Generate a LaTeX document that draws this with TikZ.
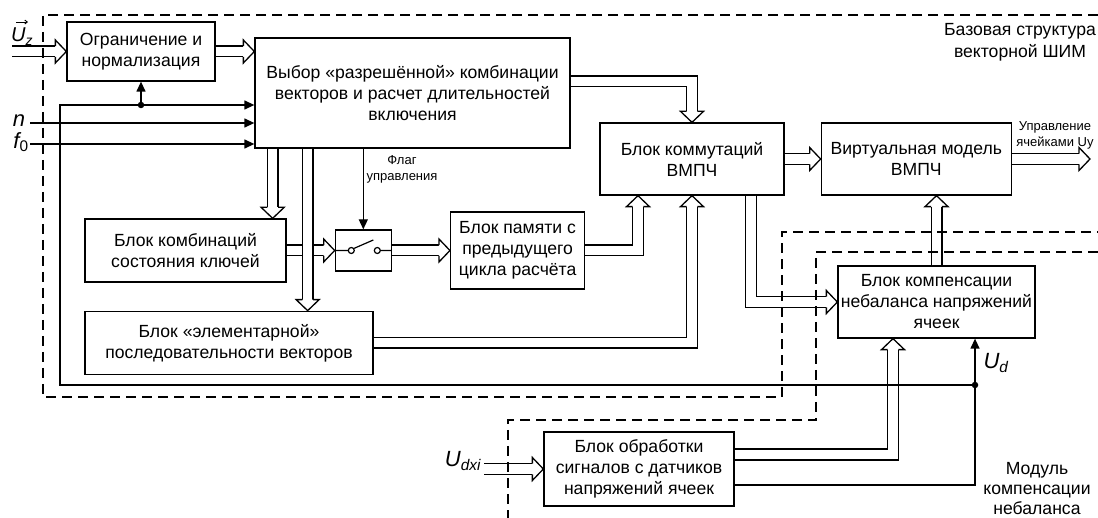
\documentclass[tikz,border=0pt]{standalone}
\usepackage{fontspec}
\setmainfont{Liberation Sans}
\usetikzlibrary{arrows.meta, positioning, decorations.markings}
\tikzset{
  block/.style={draw, line width=1.3pt, fill=white, align=center, inner sep=0pt,
    font=\fontsize{17.6}{21}\selectfont}, % every box of the scheme
  head/.style={line width=1.3pt, fill=white, shorten >=0pt, solid},
  bus/.style={double, double distance=9.4pt, line width=1.3pt, shorten >=11pt,
    postaction={decorate},
    decoration={markings, mark=at position 1 with {\pgfsetinnerlinewidth{0pt}
      \draw[head] (-11pt,-5.4pt) -- (-11pt,-11.5pt) -- (0pt,0pt)
        -- (-11pt,11.5pt) -- (-11pt,5.4pt);}}}, % hollow double arrow
  wire/.style={line width=1.3pt, -{Triangle[length=10pt,width=9pt]}},
  frame/.style={line width=1.3pt, dash pattern=on 10pt off 6pt},
  dot/.style={circle, fill, inner sep=0pt, minimum size=6.5pt},
  lbl/.style={align=center, font=\fontsize{17.6}{22}\selectfont},
  small/.style={align=center, font=\fontsize{13}{16}\selectfont},
  sig/.style={inner sep=0pt, font=\fontsize{22}{22}\selectfont\itshape},
}
\begin{document}
\begin{tikzpicture}[x=1pt, y=-1pt]
    \useasboundingbox (0,0) rectangle (1098,518);

    \node[block, minimum width=315pt, minimum height=110pt] (choice) at (412.5,93)
      {Выбор «разрешённой» комбинации\\векторов и расчет длительностей\\включения};
    \node[block, minimum width=148pt, minimum height=59pt] (limit) at (141,51.5)
      {Ограничение и\\нормализация};
    \node[block, minimum width=184pt, minimum height=72pt] (commut) at (692,159)
      {Блок коммутаций\\ВМПЧ};
    \node[block, minimum width=190pt, minimum height=72pt, right=36pt of commut] (model)
      {Виртуальная модель\\ВМПЧ};
    \node[block, minimum width=201pt, minimum height=63pt] (combo) at (185.5,250.5)
      {Блок комбинаций\\состояния ключей};
    \node[block, minimum width=56pt, minimum height=41pt, right=48pt of combo] (switch) {};
    \node[block, minimum width=134pt, minimum height=77pt, right=58pt of switch] (memory)
      {Блок памяти с\\предыдущего\\цикла расчёта};
    \node[block, minimum width=288pt, minimum height=63pt,
      below=28pt of combo.south west, anchor=north west] (elem)
      {Блок «элементарной»\\последовательности векторов};
    \node[block, minimum width=197pt, minimum height=72pt] (balance) at (936.5,302)
      {Блок компенсации\\небаланса напряжений\\ячеек};
    \node[block, minimum width=190pt, minimum height=74pt] (sensor) at (639,469)
      {Блок обработки\\сигналов с датчиков\\напряжений ячеек};

    \coordinate (uz) at (12,51.5);
    \coordinate (nin) at (30,123);
    \coordinate (fin) at (30,144);
    \coordinate (fb) at (60,105);
    \coordinate (ud) at (975,385);
    \coordinate (out) at (1090,159);
    \coordinate (udxi) at (484,469);

    % switch symbol
    \draw[line width=1.2pt] (switch.west) -- ([xshift=-15pt]switch.center)
      ([xshift=-12pt]switch.center) circle (3pt)
      ([xshift=14pt]switch.center) circle (3pt)
      ([xshift=17pt]switch.center) -- (switch.east)
      ([shift={(-10,-1.8)}]switch.center) -- ([shift={(10,-10.5)}]switch.center);

    \draw[bus] (uz) -- (uz -| limit.west);
    \draw[bus] (limit.east) -- (limit.east -| choice.west);
    \draw[bus] ([yshift=11.5pt]choice.east) -| (commut.north);
    \draw[bus] ([xshift=-14pt]combo.north east |- choice.south) -- ([xshift=-14pt]combo.north east);
    \draw[bus] (combo.east) -- (switch.west);
    \draw[bus] ([xshift=-66pt]elem.north east |- choice.south) -- ([xshift=-66pt]elem.north east);
    \draw[bus] (switch.east) -- (memory.west);
    \draw[bus] (memory.east) -| ([xshift=-54pt]commut.south);
    \draw[bus] (elem.east) -| (commut.south);
    \draw[bus] (commut.east) -- (model.west);
    \draw[bus] (model.east) -- (out);
    \draw[bus] ([xshift=59pt]commut.south) |- (balance.west);
    \draw[bus] (balance.north) -- (balance.north |- model.south);
    \draw[bus] ([yshift=14.5pt]sensor.east) -| ([xshift=-43.5pt]balance.south);
    \draw[bus] (udxi) -- (sensor.west);

    \draw[wire] (nin) -- (nin -| choice.west);
    \draw[wire] (fin) -- (fin -| choice.west);
    \draw[wire] (choice.south -| switch.north) -- (switch.north);
    \draw[wire] ([yshift=-16pt]sensor.east) -| (ud) -- (ud |- balance.south);
    \draw[wire] (ud) -| (fb) -- (fb -| choice.west);
    \draw[wire] (limit.south |- fb) -- (limit.south);
    \node[dot] (uddot) at (ud) {};
    \node[dot] (fbdot) at (limit.south |- fb) {};

    \draw[frame] (1098,15) -- (43,15) -- (43,397) -- (782,397) -- (782,232) -- (1098,232);
    \draw[frame] (1098,252) -- (816,252) -- (816,420) -- (508,420) -- (508,518);

    \node[lbl] (basetitle) at (1020,42) {Базовая структура\\векторной ШИМ};
    \node[lbl, font=\fontsize{17.6}{20}\selectfont] (modtitle) at (1037,489)
      {Модуль\\компенсации\\небаланса};
    \node[small] (flag) at (402,169) {Флаг\\управления};
    \node[small] (outlbl) at (1055,135) {Управление\\ячейками Uy};
    \node[sig, anchor=base west, font=\fontsize{20}{20}\selectfont\itshape] (uzlbl)
      at (11,42) {U\textsubscript{z}};
    \draw[line width=0.9pt, -{Straight Barb[length=2.5pt,width=4pt]}]
      ([shift={(5,-6)}]uzlbl.north west) -- ++(12,0);
    \node[sig] (nlbl) at (19,121) {n};
    \node[sig] (flbl) at (21,142) {f\textsubscript{\upshape 0}};
    \node[sig] (udlbl) at (996,363) {U\textsubscript{d}};
    \node[sig] (udxilbl) at (463,461) {U\textsubscript{dxi}};
  \end{tikzpicture}
\end{document}
